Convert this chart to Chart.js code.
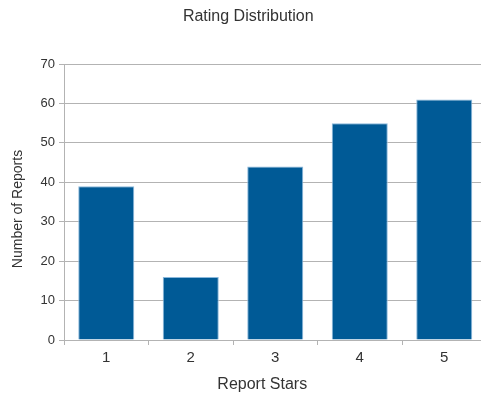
<!DOCTYPE html>
<html>
<head>
<meta charset="utf-8">
<script src="https://cdn.jsdelivr.net/npm/chart.js@4/dist/chart.umd.min.js"></script>
<style>
  html, body { margin: 0; padding: 0; background: #ffffff; overflow: hidden; }
  #wrap { width: 481px; height: 396px; overflow: hidden; }
  canvas { display: block; }
</style>
</head>
<body>
<div id="wrap"><canvas id="chart" width="496" height="396"></canvas></div>
<script>
// Rating counts per number of stars
const categories = ['1', '2', '3', '4', '5'];
const reportCounts = [39, 16, 44, 55, 61];
const yTicks = [0, 10, 20, 30, 40, 50, 60, 70];
const chartTitle = 'Rating Distribution';
const xAxisTitle = 'Report Stars';
const yAxisTitle = 'Number of Reports';

const FONT = 'Liberation Sans, Arial, sans-serif';
const TEXT = '#333333';
const GRID = '#b3b3b3';

// Heading and both axis captions
const captions = {
  id: 'captions',
  afterDraw(chart) {
    const { ctx, chartArea } = chart;
    const midX = (chartArea.left + chartArea.right) / 2;
    const midY = (chartArea.top + chartArea.bottom) / 2;
    ctx.save();
    ctx.fillStyle = TEXT;
    ctx.textAlign = 'center';
    ctx.textBaseline = 'middle';
    ctx.font = '16px ' + FONT;
    ctx.fillText(chartTitle, midX - 27, 17);
    ctx.fillText(xAxisTitle, midX - 13, chart.height - 11);
    ctx.font = '14px ' + FONT;
    ctx.translate(18, midY + 7);
    ctx.rotate(-Math.PI / 2);
    ctx.fillText(yAxisTitle, 0, 0);
    ctx.restore();
  }
};

new Chart(document.getElementById('chart'), {
  type: 'bar',
  data: {
    labels: categories,
    datasets: [{
      data: reportCounts,
      backgroundColor: '#005a96',
      borderColor: '#8ab8dc',
      borderWidth: 1,
      barPercentage: 0.663,
      categoryPercentage: 1.0
    }]
  },
  options: {
    responsive: false,
    animation: false,
    devicePixelRatio: 1,
    layout: { padding: { left: 0, top: 64, bottom: 0, right: 9.5 } },
    plugins: {
      legend: { display: false },
      tooltip: { enabled: false },
      title: { display: false }
    },
    scales: {
      x: {
        grid: { drawOnChartArea: false, drawTicks: true, tickLength: 5, color: GRID },
        border: { color: GRID },
        ticks: { color: TEXT, font: { family: FONT, size: 15 }, padding: 4 },
        afterFit(scale) { scale.height = 56; }
      },
      y: {
        min: yTicks[0],
        max: yTicks[yTicks.length - 1],
        afterBuildTicks(scale) { scale.ticks = yTicks.map(v => ({ value: v })); },
        grid: { color: GRID, tickLength: 5 },
        border: { color: GRID },
        ticks: { color: TEXT, font: { family: FONT, size: 13 }, padding: 4 },
        afterFit(scale) { scale.width = 64; }
      }
    }
  },
  plugins: [captions]
});
</script>
</body>
</html>
